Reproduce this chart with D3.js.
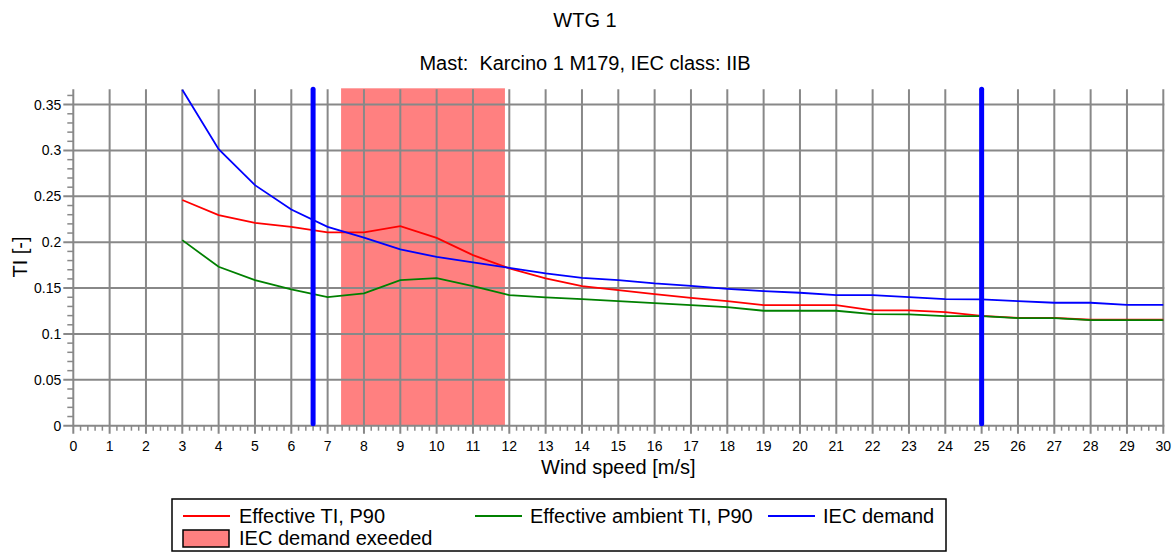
<!DOCTYPE html>
<html lang="en">
<head>
    <meta charset="UTF-8">
    <title>WTG 1 - TI</title>
    <style>
        body { margin: 0; background: #fff; }
        svg text { font-family: "Liberation Sans", Arial, sans-serif; fill: #000; white-space: pre; }
        .grid line { stroke: #888; stroke-width: 2; }
        .minor line { stroke: #888; stroke-width: 1.5; }
    </style>
    <script src="https://d3js.org/d3.v7.min.js"></script>
</head>
<body>
<svg id="chart" width="1172" height="555"></svg>
<script>
    // wind speed bins [m/s]
    var windSpeeds = [3, 4, 5, 6, 7, 8, 9, 10, 11, 12, 13, 14, 15, 16, 17, 18, 19, 20, 21, 22, 23, 24, 25, 26, 27, 28, 29, 30];
    var effectiveTI = [0.246, 0.2295, 0.221, 0.2168, 0.2107, 0.2107, 0.2175, 0.2048, 0.186, 0.1715, 0.1606, 0.1522, 0.1478, 0.1435,
        0.1394, 0.1358, 0.1315, 0.1315, 0.1315, 0.1257, 0.1257, 0.1238, 0.1198, 0.1176, 0.1176, 0.1155, 0.1155, 0.1155];
    var ambientTI = [0.2023, 0.1732, 0.1587, 0.1486, 0.1402, 0.1442, 0.1587, 0.1609, 0.1522, 0.1424, 0.1399, 0.138, 0.1358, 0.1337,
        0.1315, 0.1293, 0.1253, 0.1253, 0.1253, 0.1217, 0.1213, 0.1195, 0.1195, 0.1173, 0.1173, 0.1151, 0.1151, 0.1151];
    var iecDemand = [0.3663, 0.3014, 0.2622, 0.2357, 0.2168, 0.205, 0.1921, 0.184, 0.178, 0.1721, 0.166, 0.1612, 0.1587, 0.1551,
        0.1525, 0.1492, 0.1467, 0.1449, 0.1424, 0.1424, 0.1402, 0.138, 0.1377, 0.1358, 0.134, 0.134, 0.1318, 0.1318];
    var exceededRange = [7.37, 11.88];
    var markerSpeeds = [6.6, 25];
    var yTicks = [0, 0.05, 0.1, 0.15, 0.2, 0.25, 0.3, 0.35];
    var xTicks = d3.range(0, 31);

    var svg = d3.select("#chart");
    var x = d3.scaleLinear().domain([0, 30]).range([73.3, 1163.3]);
    var y = d3.scaleLinear().domain([0, 0.3667]).range([425.7, 89.3]);

    // titles
    svg.append("text").attr("x", 585).attr("y", 27).attr("text-anchor", "middle")
        .style("font-size", "20px").text("WTG 1");
    svg.append("text").attr("x", 585).attr("y", 70).attr("text-anchor", "middle")
        .style("font-size", "20px").text("Mast:  Karcino 1 M179, IEC class: IIB");

    // exceeded band
    svg.append("rect")
        .attr("x", x(exceededRange[0]))
        .attr("width", x(exceededRange[1]) - x(exceededRange[0]))
        .attr("y", y.range()[1] - 1)
        .attr("height", y(0) - y.range()[1] + 1)
        .attr("fill", "#ff8080");

    // grid (major lines run past the axis as ticks)
    var grid = svg.append("g").attr("class", "grid");
    grid.selectAll(".h").data(yTicks).enter().append("line")
        .attr("x1", x(0) - 10).attr("x2", x(30) + 1)
        .attr("y1", function (d) { return y(d); }).attr("y2", function (d) { return y(d); });
    grid.selectAll(".v").data(xTicks).enter().append("line")
        .attr("x1", function (d) { return x(d); }).attr("x2", function (d) { return x(d); })
        .attr("y1", y.range()[1]).attr("y2", y(0) + 8);

    // minor ticks
    var minor = svg.append("g").attr("class", "minor");
    minor.selectAll(".mx").data(d3.range(0, 150).filter(function (i) { return i % 5 != 0; }).map(function (i) { return i / 5; }))
        .enter().append("line")
        .attr("x1", function (d) { return x(d); }).attr("x2", function (d) { return x(d); })
        .attr("y1", y(0)).attr("y2", y(0) + 5);
    minor.selectAll(".my").data(d3.range(1, 37).filter(function (i) { return i % 5 != 0; }).map(function (i) { return i / 100; }))
        .enter().append("line")
        .attr("x1", x(0) - 6).attr("x2", x(0))
        .attr("y1", function (d) { return y(d); }).attr("y2", function (d) { return y(d); });

    // tick labels
    svg.selectAll(".yl").data(yTicks).enter().append("text")
        .attr("x", x(0) - 12).attr("y", function (d) { return y(d) + 5; })
        .attr("text-anchor", "end").style("font-size", "14px")
        .text(function (d) { return d3.format("~g")(d); });
    svg.selectAll(".xl").data(xTicks).enter().append("text")
        .attr("x", function (d) { return x(d); }).attr("y", 451)
        .attr("text-anchor", "middle").style("font-size", "14px")
        .text(function (d) { return d; });

    // axis titles
    svg.append("text").attr("x", (x(0) + x(30)) / 2).attr("y", 474).attr("text-anchor", "middle")
        .style("font-size", "20px").text("Wind speed [m/s]");
    svg.append("text").attr("transform", "translate(27,257) rotate(-90)").attr("text-anchor", "middle")
        .style("font-size", "20px").text("TI [-]");

    // series
    var series = [
        { name: "Effective TI, P90", values: effectiveTI, color: "#ff0000" },
        { name: "Effective ambient TI, P90", values: ambientTI, color: "#008000" },
        { name: "IEC demand", values: iecDemand, color: "#0000ff" }
    ];
    var line = d3.line().x(function (d) { return x(d[0]); }).y(function (d) { return y(d[1]); });
    series.forEach(function (s) {
        svg.append("path")
            .datum(d3.zip(windSpeeds, s.values))
            .attr("d", line)
            .attr("fill", "none")
            .attr("stroke", s.color)
            .attr("stroke-width", 1.8);
    });

    // operating range markers
    svg.selectAll(".marker").data(markerSpeeds).enter().append("line")
        .attr("x1", function (d) { return x(d); }).attr("x2", function (d) { return x(d); })
        .attr("y1", y.range()[1]).attr("y2", y(0) - 2)
        .attr("stroke", "#0000ff").attr("stroke-width", 5).attr("stroke-linecap", "round");

    // legend
    var lg = svg.append("g");
    lg.append("rect").attr("x", 172).attr("y", 499).attr("width", 774).attr("height", 52)
        .attr("fill", "#fff").attr("stroke", "#000").attr("stroke-width", 1.5);
    var legendX = [[183, 239], [475, 530], [768, 823]];
    series.forEach(function (s, i) {
        lg.append("line").attr("x1", legendX[i][0]).attr("x2", legendX[i][0] + 47)
            .attr("y1", 516).attr("y2", 516).attr("stroke", s.color).attr("stroke-width", 1.8);
        lg.append("text").attr("x", legendX[i][1]).attr("y", 523).style("font-size", "20px").text(s.name);
    });
    lg.append("rect").attr("x", 183).attr("y", 530).attr("width", 46).attr("height", 17)
        .attr("fill", "#ff8080").attr("stroke", "#000").attr("stroke-width", 1.5);
    lg.append("text").attr("x", 239).attr("y", 545).style("font-size", "20px").text("IEC demand exeeded");
</script>
</body>
</html>
